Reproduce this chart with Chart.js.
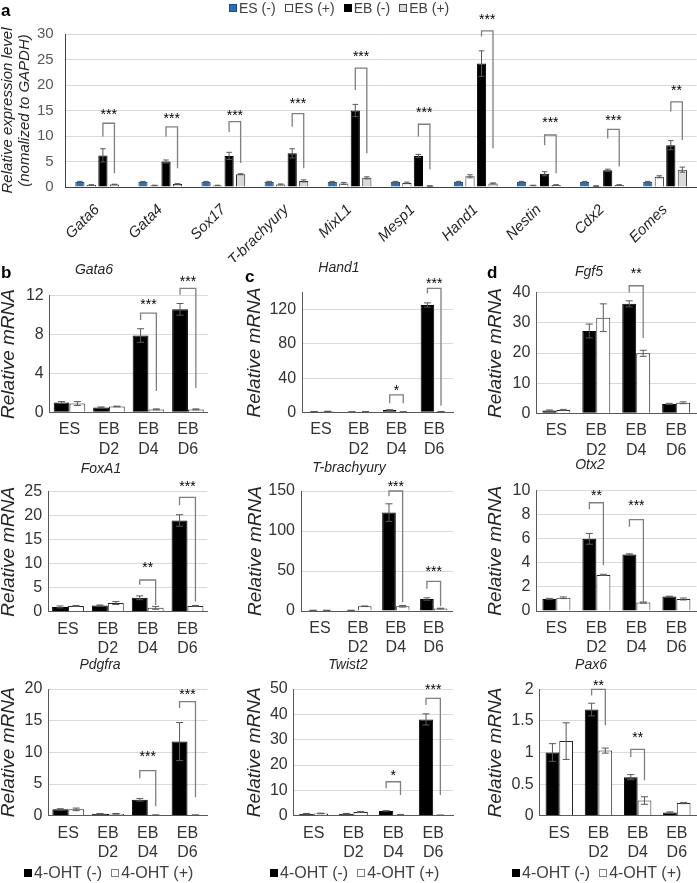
<!DOCTYPE html>
<html>
<head>
<meta charset="utf-8">
<script src="https://cdn.jsdelivr.net/npm/chart.js@4"></script>
<style>
  body { margin: 0; background: #fff; font-family: "Liberation Sans", Arial, sans-serif; }
  #page { position: relative; width: 697px; height: 883px; overflow: hidden; }
  #page canvas { position: absolute; }
  .txt { position: absolute; transform: translate(-50%, -50%); white-space: nowrap; color: #262626; }
  .letter { position: absolute; font-weight: bold; font-size: 17px; color: #000; }
  .legend { position: absolute; display: flex; align-items: center; white-space: nowrap; transform: translateY(-50%); }
  .legend span.sq { display: inline-block; width: 8px; height: 8px; box-sizing: border-box; margin-right: 2px; }
  .legend span.lab { margin-right: 9px; }
</style>
</head>
<body>
<div id="page"></div>
<script>
// ---- panel a ----
const genesA = ['Gata6', 'Gata4', 'Sox17', 'T-brachyury', 'MixL1', 'Mesp1', 'Hand1', 'Nestin', 'Cdx2', 'Eomes'];
const esMinus = [1.0, 1.0, 1.0, 1.0, 1.0, 1.0, 1.0, 1.0, 1.0, 1.0];
const esMinusErr = [0.1, 0.1, 0.1, 0.1, 0.1, 0.1, 0.1, 0.1, 0.1, 0.1];
const esPlus = [0.4, 0.3, 0.3, 0.5, 0.7, 0.8, 2.1, 0.3, 0.2, 2.0];
const esPlusErr = [0.05, 0.05, 0.05, 0.1, 0.2, 0.15, 0.3, 0.05, 0.05, 0.2];
const ebMinus = [6.2, 5.0, 6.1, 6.6, 15.0, 6.1, 24.2, 2.6, 3.3, 8.2];
const ebMinusErr = [1.3, 0.3, 0.7, 0.9, 1.2, 0.3, 2.5, 0.4, 0.2, 0.9];
const ebPlus = [0.5, 0.6, 2.5, 1.2, 1.8, 0.2, 0.7, 0.4, 0.4, 3.4];
const ebPlusErr = [0.05, 0.05, 0.1, 0.2, 0.2, 0.05, 0.1, 0.05, 0.05, 0.5];
// significance: label, bracket top, left leg end, right leg end, star level
const sigLabelA = ['***', '***', '***', '***', '***', '***', '***', '***', '***', '**'];
const sigTopA = [12.5, 11.8, 12.8, 14.4, 23.3, 12.3, 30.6, 10.2, 11.3, 16.7];
const sigLeftA = [9.9, 9.9, 10.8, 11.8, 19.0, 9.9, 29.5, 8.2, 9.5, 14.8];
const sigRightA = [2.7, 3.7, 4.7, 3.7, 6.6, 3.5, 7.6, 2.7, 4.0, 9.2];
const sigStarA = [15.0, 14.1, 14.8, 17.0, 26.2, 15.3, 33.5, 13.3, 13.7, 19.7];

// ---- panels b-d ----
const days = [['ES'], ['EB', 'D2'], ['EB', 'D4'], ['EB', 'D6']];

const gata6Minus = [1.0, 0.5, 7.9, 10.6], gata6MinusErr = [0.1, 0.05, 0.7, 0.6];
const gata6Plus = [0.9, 0.6, 0.3, 0.3], gata6PlusErr = [0.2, 0.03, 0.05, 0.05];
const gata6Sig = [[2, '***', 10.2, 9.5, 2.2, 11.5], [3, '***', 12.75, 12.1, 2.5, 13.8]];

const foxa1Minus = [1.0, 1.3, 2.9, 19.0], foxa1MinusErr = [0.2, 0.1, 0.4, 1.2];
const foxa1Plus = [1.2, 1.8, 0.8, 1.2], foxa1PlusErr = [0.1, 0.3, 0.3, 0.1];
const foxa1Sig = [[2, '**', 6.6, 5.6, 1.4, 10.0], [3, '***', 23.8, 22.2, 2.1, 26.8]];

const pdgfraMinus = [1.0, 0.3, 2.5, 11.7], pdgfraMinusErr = [0.1, 0.05, 0.2, 3.0];
const pdgfraPlus = [1.0, 0.3, 0.1, 0.1], pdgfraPlusErr = [0.2, 0.05, 0.02, 0.02];
const pdgfraSig = [[2, '***', 7.1, 5.9, 1.5, 9.9], [3, '***', 18.0, 17.0, 2.9, 19.7]];

const hand1Minus = [0.9, 0.5, 2.7, 125.6], hand1MinusErr = [0.1, 0.1, 0.3, 2.5];
const hand1Plus = [1.1, 0.7, 0.5, 0.7], hand1PlusErr = [0.1, 0.1, 0.1, 0.1];
const hand1Sig = [[2, '*', 20.3, 10.5, 10.5, 30], [3, '***', 145, 139, 7.7, 155]];

const tbraMinus = [0.8, 0.8, 123, 15], tbraMinusErr = [0.1, 0.1, 11, 1.5];
const tbraPlus = [0.8, 6.0, 6.0, 3.0], tbraPlusErr = [0.1, 0.3, 1.0, 0.5];
const tbraSig = [[2, '***', 150, 143.5, 11, 160], [3, '***', 37, 27.7, 6, 54]];

const twist2Minus = [0.8, 0.8, 1.9, 38], twist2MinusErr = [0.1, 0.1, 0.1, 2.2];
const twist2Plus = [0.9, 1.5, 0.4, 0.2], twist2PlusErr = [0.1, 0.2, 0.1, 0.05];
const twist2Sig = [[2, '*', 13.4, 10.8, 8.2, 17.4], [3, '***', 46.3, 43.7, 8.2, 51]];

const fgf5Minus = [0.9, 27.3, 36.3, 3.1], fgf5MinusErr = [0.2, 2.3, 1.0, 0.2];
const fgf5Plus = [1.1, 31.7, 19.9, 3.5], fgf5PlusErr = [0.2, 4.6, 1.0, 0.3];
const fgf5Sig = [[2, '**', 42.3, 40.1, 25, 47.5]];

const otx2Minus = [1.0, 6.0, 4.7, 1.2], otx2MinusErr = [0.05, 0.45, 0.05, 0.03];
const otx2Plus = [1.1, 3.0, 0.7, 1.0], otx2PlusErr = [0.07, 0.05, 0.05, 0.08];
const otx2Sig = [[1, '**', 9.0, 8.45, 3.8, 9.9], [2, '***', 7.6, 7.0, 0.8, 9.1]];

const pax6Minus = [1.0, 1.68, 0.61, 0.05], pax6MinusErr = [0.14, 0.1, 0.04, 0.01];
const pax6Plus = [1.18, 1.03, 0.24, 0.2], pax6PlusErr = [0.29, 0.04, 0.06, 0.01];
const pax6Sig = [[1, '**', 2.0, 1.9, 1.43, 2.12], [2, '**', 1.05, 0.93, 0.56, 1.3]];

Chart.defaults.font.family = "'Liberation Sans', Arial, sans-serif";
Chart.defaults.animation = false;
Chart.defaults.plugins.legend.display = false;
Chart.defaults.plugins.tooltip.enabled = false;

const page = document.getElementById('page');

// error bars from dataset.errors
Chart.register({
  id: 'errorBars',
  afterDatasetsDraw(chart) {
    const ctx = chart.ctx, y = chart.scales.y;
    chart.data.datasets.forEach((ds, i) => {
      if (!ds.errors) return;
      chart.getDatasetMeta(i).data.forEach((bar, j) => {
        const v = ds.data[j], e = ds.errors[j];
        const top = y.getPixelForValue(v + e), bot = y.getPixelForValue(Math.max(0, v - e));
        const cap = Math.min(7, bar.width * 0.6) / 2;
        ctx.save();
        ctx.strokeStyle = '#595959';
        ctx.lineWidth = 1;
        ctx.beginPath();
        ctx.moveTo(bar.x, top); ctx.lineTo(bar.x, bot);
        ctx.moveTo(bar.x - cap, top); ctx.lineTo(bar.x + cap, top);
        ctx.moveTo(bar.x - cap, bot); ctx.lineTo(bar.x + cap, bot);
        ctx.stroke();
        ctx.restore();
      });
    });
  }
});

function brackets(items, a, b) {
  return {
    id: 'brackets',
    afterDatasetsDraw(chart) {
      const ctx = chart.ctx, y = chart.scales.y;
      const A = chart.getDatasetMeta(a).data, B = chart.getDatasetMeta(b).data;
      items.forEach(([cat, label, top, left, right, star]) => {
        const x1 = A[cat].x, x2 = B[cat].x;
        ctx.save();
        ctx.strokeStyle = '#7f7f7f';
        ctx.lineWidth = 1.3;
        ctx.beginPath();
        ctx.moveTo(x1, y.getPixelForValue(left));
        ctx.lineTo(x1, y.getPixelForValue(top));
        ctx.lineTo(x2, y.getPixelForValue(top));
        ctx.lineTo(x2, y.getPixelForValue(right));
        ctx.stroke();
        ctx.fillStyle = '#000';
        ctx.font = "14px 'Liberation Sans', Arial, sans-serif";
        ctx.textAlign = 'center';
        ctx.textBaseline = 'alphabetic';
        ctx.fillText(label, (x1 + x2) / 2, y.getPixelForValue(star) + 8);
        ctx.restore();
      });
    }
  };
}

function addCanvas(g) {
  const c = document.createElement('canvas');
  c.width = g.cw; c.height = g.ch;
  c.style.left = g.cl + 'px'; c.style.top = g.ct + 'px';
  page.appendChild(c);
  return c;
}

function addText(text, x, y, css) {
  const d = document.createElement('div');
  d.className = 'txt';
  d.textContent = text;
  d.style.left = x + 'px'; d.style.top = y + 'px';
  Object.assign(d.style, css || {});
  page.appendChild(d);
}

function addLetter(text, x, y) {
  const d = document.createElement('div');
  d.className = 'letter';
  d.textContent = text;
  d.style.left = x + 'px'; d.style.top = y + 'px';
  page.appendChild(d);
}

function addLegend(items, x, y, size) {
  const d = document.createElement('div');
  d.className = 'legend';
  d.style.left = x + 'px'; d.style.top = y + 'px';
  d.style.fontSize = size + 'px';
  d.style.color = '#404040';
  items.forEach(([fill, border, text]) => {
    const sq = document.createElement('span');
    sq.className = 'sq';
    sq.style.background = fill;
    sq.style.border = '1px solid ' + border;
    const lab = document.createElement('span');
    lab.className = 'lab';
    lab.textContent = text;
    d.append(sq, lab);
  });
  page.appendChild(d);
}

const plainNum = v => String(Number(v.toFixed(2)));

// ---- panel a chart ----
(function () {
  const g = {cl: -0.6, ct: 0, cw: 698, ch: 262, pl: 66, pr: 697, pt: 34, pb: 187};
  const sig = genesA.map((_, i) => [i, sigLabelA[i], sigTopA[i], sigLeftA[i], sigRightA[i], sigStarA[i]]);
  new Chart(addCanvas(g), {
    type: 'bar',
    data: {
      labels: genesA,
      datasets: [
        {label: 'ES (-)', data: esMinus, errors: esMinusErr, backgroundColor: '#2a72b8', borderColor: '#1d4f80', borderWidth: 1},
        {label: 'ES (+)', data: esPlus, errors: esPlusErr, backgroundColor: '#fff', borderColor: '#262626', borderWidth: 1},
        {label: 'EB (-)', data: ebMinus, errors: ebMinusErr, backgroundColor: '#000', borderColor: '#000', borderWidth: 1},
        {label: 'EB (+)', data: ebPlus, errors: ebPlusErr, backgroundColor: '#d9d9d9', borderColor: '#262626', borderWidth: 1}
      ]
    },
    options: {
      responsive: false,
      layout: {padding: {top: g.pt - g.ct, right: Math.max(0, g.cl + g.cw - g.pr), left: 0, bottom: 0}},
      datasets: {bar: {categoryPercentage: 0.73, barPercentage: 0.8}},
      scales: {
        x: {
          grid: {display: false},
          border: {color: '#404040'},
          ticks: {font: {size: 15, style: 'italic'}, color: '#262626', minRotation: 45, maxRotation: 45, autoSkip: false, padding: 6},
          afterFit: s => { s.height = g.ct + g.ch - g.pb; }
        },
        y: {
          min: 0, max: 30,
          ticks: {stepSize: 5, font: {size: 15}, color: '#595959', padding: 12},
          grid: {color: '#d9d9d9', drawTicks: false},
          border: {color: '#404040'},
          title: {display: true, text: ['Relative expression level', '(nomalized to GAPDH)'], font: {size: 15, style: 'italic', lineHeight: 1.15}, color: '#262626', padding: {top: 0, bottom: 0}},
          afterFit: s => { s.width = g.pl - g.cl; }
        }
      }
    },
    plugins: [brackets(sig, 2, 3)]
  });
})();

function smallPanel(g, yMax, step, minus, minusErr, plus, plusErr, sig, catPct) {
  new Chart(addCanvas(g), {
    type: 'bar',
    data: {
      labels: days,
      datasets: [
        {label: '4-OHT (-)', data: minus, errors: minusErr, backgroundColor: '#000', borderColor: '#000', borderWidth: 1},
        {label: '4-OHT (+)', data: plus, errors: plusErr, backgroundColor: '#fff', borderColor: '#262626', borderWidth: 1}
      ]
    },
    options: {
      responsive: false,
      layout: {padding: {top: g.pt - g.ct, right: g.cl + g.cw - g.pr, left: 0, bottom: 0}},
      datasets: {bar: {categoryPercentage: catPct, barPercentage: 1}},
      scales: {
        x: {
          grid: {display: false},
          border: {color: '#595959'},
          ticks: {font: {size: 16}, color: '#333', padding: 0},
          afterFit: s => { s.height = g.ct + g.ch - g.pb; }
        },
        y: {
          min: 0, max: yMax,
          ticks: {stepSize: step, font: {size: 16}, color: '#333', padding: 6, callback: plainNum},
          grid: {color: '#d9d9d9', drawTicks: false},
          border: {color: '#595959'},
          title: {display: true, text: 'Relative mRNA', font: {size: 19, style: 'italic'}, color: '#262626', padding: {top: 0, bottom: 0}},
          afterFit: s => { s.width = g.pl - g.cl; }
        }
      }
    },
    plugins: [brackets(sig, 0, 1)]
  });
}

// row 1
smallPanel({cl: -3.4, ct: 262, cw: 214, ch: 204, pl: 49.3, pr: 207.3, pt: 295.7, pb: 412.3}, 12, 2, gata6Minus, gata6MinusErr, gata6Plus, gata6PlusErr, gata6Sig, 0.8);
smallPanel({cl: 242.6, ct: 262, cw: 214, ch: 204, pl: 301.7, pr: 452.7, pt: 292.7, pb: 412.3}, 140, 20, hand1Minus, hand1MinusErr, hand1Plus, hand1PlusErr, hand1Sig, 0.72);
smallPanel({cl: 483.6, ct: 262, cw: 214, ch: 204, pl: 536, pr: 695.7, pt: 292.7, pb: 413.3}, 40, 10, fgf5Minus, fgf5MinusErr, fgf5Plus, fgf5PlusErr, fgf5Sig, 0.7);
// row 2
smallPanel({cl: -3.4, ct: 470, cw: 214, ch: 192, pl: 47.7, pr: 207, pt: 491.7, pb: 611.7}, 25, 5, foxa1Minus, foxa1MinusErr, foxa1Plus, foxa1PlusErr, foxa1Sig, 0.8);
smallPanel({cl: 244, ct: 470, cw: 212, ch: 192, pl: 301, pr: 452.7, pt: 491, pb: 611}, 150, 50, tbraMinus, tbraMinusErr, tbraPlus, tbraPlusErr, tbraSig, 0.72);
smallPanel({cl: 483.6, ct: 470, cw: 214, ch: 192, pl: 536, pr: 696, pt: 490.7, pb: 611}, 10, 2, otx2Minus, otx2MinusErr, otx2Plus, otx2PlusErr, otx2Sig, 0.7);
// row 3
smallPanel({cl: -3.4, ct: 672, cw: 214, ch: 193, pl: 48, pr: 207, pt: 689, pb: 815.7}, 20, 5, pdgfraMinus, pdgfraMinusErr, pdgfraPlus, pdgfraPlusErr, pdgfraSig, 0.8);
smallPanel({cl: 242.6, ct: 672, cw: 214, ch: 193, pl: 293.3, pr: 452.7, pt: 689, pb: 815.7}, 50, 10, twist2Minus, twist2MinusErr, twist2Plus, twist2PlusErr, twist2Sig, 0.72);
smallPanel({cl: 483.6, ct: 672, cw: 214, ch: 193, pl: 539.3, pr: 696, pt: 689.3, pb: 815.7}, 2, 0.5, pax6Minus, pax6MinusErr, pax6Plus, pax6PlusErr, pax6Sig, 0.7);

// text overlays
addLetter('a', 1, 1);
addLetter('b', 1, 263);
addLetter('c', 245, 267);
addLetter('d', 487, 263);

const titleCss = {fontSize: '14px', fontStyle: 'italic'};
addText('Gata6', 94, 269, titleCss);
addText('Hand1', 339, 267, titleCss);
addText('Fgf5', 589, 271, titleCss);
addText('FoxA1', 101, 468, titleCss);
addText('T-brachyury', 349, 467, titleCss);
addText('Otx2', 590, 464, titleCss);
addText('Pdgfra', 100, 664, titleCss);
addText('Twist2', 348, 664, titleCss);
addText('Pax6', 591, 664, titleCss);

addLegend([['#2a72b8', '#1d4f80', 'ES (-)'], ['#fff', '#404040', 'ES (+)'], ['#000', '#000', 'EB (-)'], ['#d9d9d9', '#404040', 'EB (+)']], 229, 8, 14);
const ohtLegend = [['#000', '#000', '4-OHT (-)'], ['#fff', '#7f7f7f', '4-OHT (+)']];
addLegend(ohtLegend, 24, 873, 16);
addLegend(ohtLegend, 270, 873, 16);
addLegend(ohtLegend, 512, 873, 16);
</script>
</body>
</html>
